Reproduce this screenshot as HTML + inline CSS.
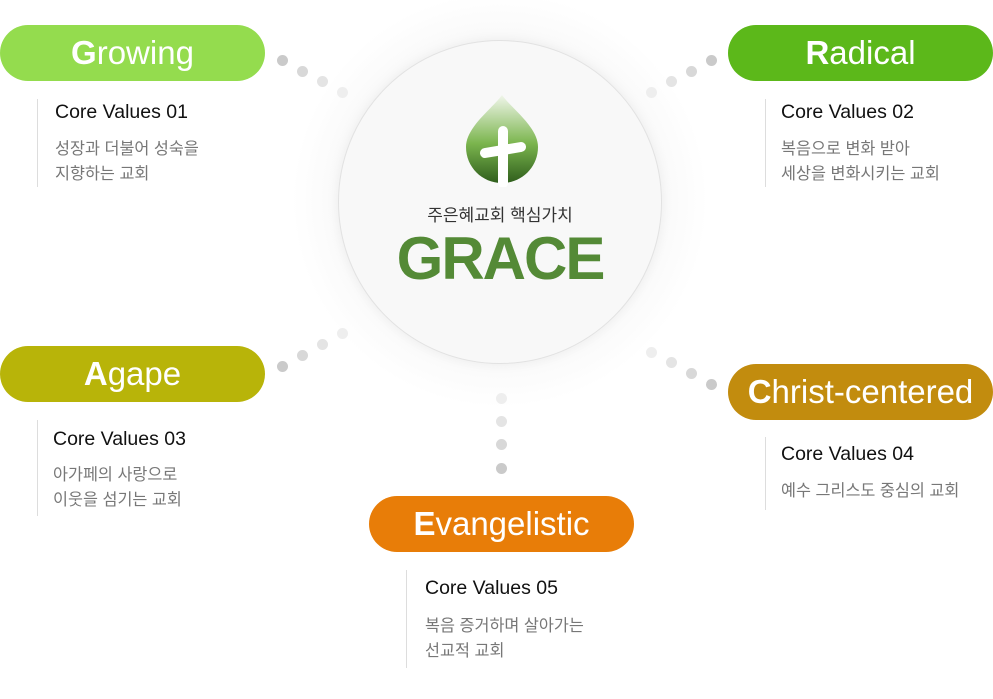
<!DOCTYPE html>
<html><head><meta charset="utf-8"><style>
*{margin:0;padding:0;box-sizing:border-box}
body{width:993px;height:699px;background:#fff;position:relative;overflow:hidden;font-family:"Liberation Sans","Noto Sans CJK KR",sans-serif}
.pill{position:absolute;width:265px;height:56px;border-radius:28px;color:#fff;font-size:33px;text-align:center;line-height:56px;font-weight:400;letter-spacing:0px}
.pill b{font-weight:700}
.line{position:absolute;width:1px;background:#ddd}
.cv{position:absolute;font-size:19.5px;color:#111;white-space:nowrap}
.ds{position:absolute;font-size:16.3px;color:#777;line-height:25px;white-space:nowrap}
.dot{position:absolute;width:11px;height:11px;border-radius:50%}
</style></head><body>
<div style="position:absolute;left:290px;top:-10px;width:420px;height:420px;border-radius:50%;background:radial-gradient(circle,#f2f2f2 0%,#f6f6f6 45%,rgba(255,255,255,0) 70%)"></div>
<div style="position:absolute;left:338px;top:40px;width:324px;height:324px;border-radius:50%;background:#f8f8f8;border:1px solid #e2e2e2;box-shadow:0 0 12px rgba(0,0,0,0.06)"></div>
<svg style="position:absolute;left:462px;top:93px" width="80" height="94" viewBox="0 0 80 94">
<defs><linearGradient id="g" x1="0" y1="0" x2="0" y2="1"><stop offset="0" stop-color="#f0f6ea"/><stop offset="0.55" stop-color="#7bb54e"/><stop offset="1" stop-color="#2f5e1c"/></linearGradient></defs>
<path d="M40 2 C30 16 4 34 4 54 C4 74 20 90 40 90 C60 90 76 74 76 54 C76 34 50 16 40 2Z" fill="url(#g)"/>
<path d="M41 38 L41 90" stroke="#fff" stroke-width="10" stroke-linecap="round"/>
<path d="M23 60 L59 54" stroke="#fff" stroke-width="10" stroke-linecap="round"/>
</svg>
<div style="position:absolute;left:330px;width:340px;top:201px;text-align:center;font-size:17px;color:#333">주은혜교회 핵심가치</div>
<div style="position:absolute;left:330px;width:340px;top:226px;text-align:center;font-size:60px;font-weight:700;color:#548a36;letter-spacing:-2px;line-height:66px">GRACE</div>

<div class="pill" style="left:0;top:25px;background:#94dc4e"><b>G</b>rowing</div>
<div class="line" style="left:37px;top:99px;height:88px"></div>
<div class="cv" style="left:55px;top:101px">Core Values 01</div>
<div class="ds" style="left:55px;top:137px">성장과 더불어 성숙을<br>지향하는 교회</div>

<div class="pill" style="left:728px;top:25px;background:#5cb81a"><b>R</b>adical</div>
<div class="line" style="left:765px;top:99px;height:88px"></div>
<div class="cv" style="left:781px;top:101px">Core Values 02</div>
<div class="ds" style="left:781px;top:137px">복음으로 변화 받아<br>세상을 변화시키는 교회</div>

<div class="pill" style="left:0;top:346px;background:#b8b409"><b>A</b>gape</div>
<div class="line" style="left:37px;top:420px;height:96px"></div>
<div class="cv" style="left:53px;top:428px">Core Values 03</div>
<div class="ds" style="left:53px;top:463px">아가페의 사랑으로<br>이웃을 섬기는 교회</div>

<div class="pill" style="left:728px;top:364px;background:#c28c0e"><b>C</b>hrist-centered</div>
<div class="line" style="left:765px;top:437px;height:73px"></div>
<div class="cv" style="left:781px;top:443px">Core Values 04</div>
<div class="ds" style="left:781px;top:479px">예수 그리스도 중심의 교회</div>

<div class="pill" style="left:369px;top:496px;background:#e87d08"><b>E</b>vangelistic</div>
<div class="line" style="left:406px;top:570px;height:98px"></div>
<div class="cv" style="left:425px;top:577px">Core Values 05</div>
<div class="ds" style="left:425px;top:614px">복음 증거하며 살아가는<br>선교적 교회</div>

<div class="dot" style="left:277px;top:55px;background:#cacaca"></div>
<div class="dot" style="left:297px;top:66px;background:#d8d8d8"></div>
<div class="dot" style="left:317px;top:76px;background:#e4e4e4"></div>
<div class="dot" style="left:337px;top:87px;background:#eeeeee"></div>

<div class="dot" style="left:706px;top:55px;background:#cacaca"></div>
<div class="dot" style="left:686px;top:66px;background:#d8d8d8"></div>
<div class="dot" style="left:666px;top:76px;background:#e4e4e4"></div>
<div class="dot" style="left:646px;top:87px;background:#eeeeee"></div>

<div class="dot" style="left:277px;top:361px;background:#cacaca"></div>
<div class="dot" style="left:297px;top:350px;background:#d8d8d8"></div>
<div class="dot" style="left:317px;top:339px;background:#e4e4e4"></div>
<div class="dot" style="left:337px;top:328px;background:#eeeeee"></div>

<div class="dot" style="left:706px;top:379px;background:#cacaca"></div>
<div class="dot" style="left:686px;top:368px;background:#d8d8d8"></div>
<div class="dot" style="left:666px;top:357px;background:#e4e4e4"></div>
<div class="dot" style="left:646px;top:347px;background:#eeeeee"></div>

<div class="dot" style="left:496px;top:393px;background:#eeeeee"></div>
<div class="dot" style="left:496px;top:416px;background:#e4e4e4"></div>
<div class="dot" style="left:496px;top:439px;background:#d8d8d8"></div>
<div class="dot" style="left:496px;top:463px;background:#cacaca"></div>
</body></html>
